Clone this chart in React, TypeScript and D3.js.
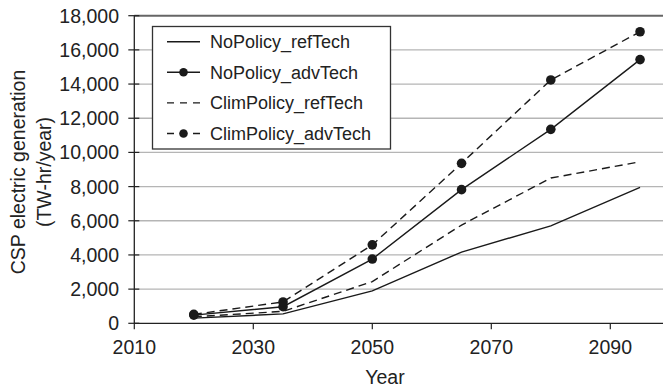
import * as d3 from "d3";

const years = [2020, 2035, 2050, 2065, 2080, 2095];
const noPolicyRefTech = [300, 550, 1900, 4170, 5700, 7950];
const noPolicyAdvTech = [480, 970, 3760, 7820, 11350, 15430];
const climPolicyRefTech = [380, 700, 2440, 5750, 8500, 9450];
const climPolicyAdvTech = [520, 1250, 4590, 9360, 14240, 17060];
const yTicks = [0, 2000, 4000, 6000, 8000, 10000, 12000, 14000, 16000, 18000];
const xTicks = [2010, 2030, 2050, 2070, 2090];

type Series = { name: string; values: number[]; dashed: boolean; markers: boolean };

const series: Series[] = [
  { name: "NoPolicy_refTech", values: noPolicyRefTech, dashed: false, markers: false },
  { name: "NoPolicy_advTech", values: noPolicyAdvTech, dashed: false, markers: true },
  { name: "ClimPolicy_refTech", values: climPolicyRefTech, dashed: true, markers: false },
  { name: "ClimPolicy_advTech", values: climPolicyAdvTech, dashed: true, markers: true },
];

export default function App() {
  const width = 663;
  const height = 389;
  const font = "Liberation Sans, Arial, Helvetica, sans-serif";

  const x = d3.scaleLinear().domain([2010, 2100]).range([134.3, 669.8]);
  const y = d3.scaleLinear().domain([0, 18000]).range([323.3, 15.7]);
  const fmt = d3.format(",");

  const line = d3
    .line<number>()
    .x((_, i) => x(years[i]))
    .y((v) => y(v));

  const x0 = x(2010);
  const y0 = y(0);

  return (
    <svg
      width={width}
      height={height}
      style={{ position: "absolute", left: 0, top: 0, background: "#fff" }}
      fontFamily={font}
    >
      {/* gridlines */}
      {yTicks.slice(1).map((t) => (
        <line
          key={t}
          x1={x0}
          x2={width}
          y1={y(t)}
          y2={y(t)}
          stroke={t === 18000 ? "#666" : "#b5b5b5"}
          strokeWidth={t === 18000 ? 2 : 1.3}
        />
      ))}

      {/* axes */}
      <line x1={x0} x2={width} y1={y0} y2={y0} stroke="#222" strokeWidth={1.3} />
      <line x1={x0} x2={x0} y1={y(18000)} y2={y0} stroke="#222" strokeWidth={1.3} />

      {yTicks.map((t) => (
        <g key={t}>
          <line x1={x0 - 6} x2={x0 + 5} y1={y(t)} y2={y(t)} stroke="#222" strokeWidth={1.2} />
          <text
            x={119}
            y={y(t)}
            dy="0.36em"
            textAnchor="end"
            fontSize={19.5}
            fill="#222"
          >
            {fmt(t)}
          </text>
        </g>
      ))}

      {xTicks.map((t) => (
        <g key={t}>
          <line x1={x(t)} x2={x(t)} y1={y0} y2={y0 + 6} stroke="#222" strokeWidth={1.2} />
          <text x={x(t)} y={354} textAnchor="middle" fontSize={19.5} fill="#222">
            {t}
          </text>
        </g>
      ))}

      <text x={385} y={384} textAnchor="middle" fontSize={19.5} fill="#222">
        Year
      </text>
      <g transform="translate(0, 172) rotate(-90)">
        <text x={0} y={25} textAnchor="middle" fontSize={19.5} fill="#222">
          CSP electric generation
        </text>
        <text x={0} y={51} textAnchor="middle" fontSize={19.5} fill="#222">
          (TW-hr/year)
        </text>
      </g>

      {/* series */}
      {series.map((s) => (
        <g key={s.name}>
          <path
            d={line(s.values) || ""}
            fill="none"
            stroke="#1a1a1a"
            strokeWidth={1.4}
            strokeDasharray={s.dashed ? "8,5" : undefined}
          />
          {s.markers &&
            s.values.map((v, i) => (
              <circle key={i} cx={x(years[i])} cy={y(v)} r={4.8} fill="#1a1a1a" />
            ))}
        </g>
      ))}

      {/* legend */}
      <g>
        <rect x={152.5} y={26.5} width={238} height={122.5} fill="#fff" stroke="#333" strokeWidth={1.3} />
        {series.map((s, i) => {
          const ly = 41.7 + i * 30.6;
          return (
            <g key={s.name}>
              <line
                x1={167}
                x2={200}
                y1={ly}
                y2={ly}
                stroke="#1a1a1a"
                strokeWidth={1.4}
                strokeDasharray={s.dashed ? "7,6" : undefined}
              />
              {s.markers && <circle cx={183.5} cy={ly} r={4.3} fill="#1a1a1a" />}
              <text x={210} y={ly} dy="0.36em" fontSize={18} fill="#222">
                {s.name}
              </text>
            </g>
          );
        })}
      </g>
    </svg>
  );
}
